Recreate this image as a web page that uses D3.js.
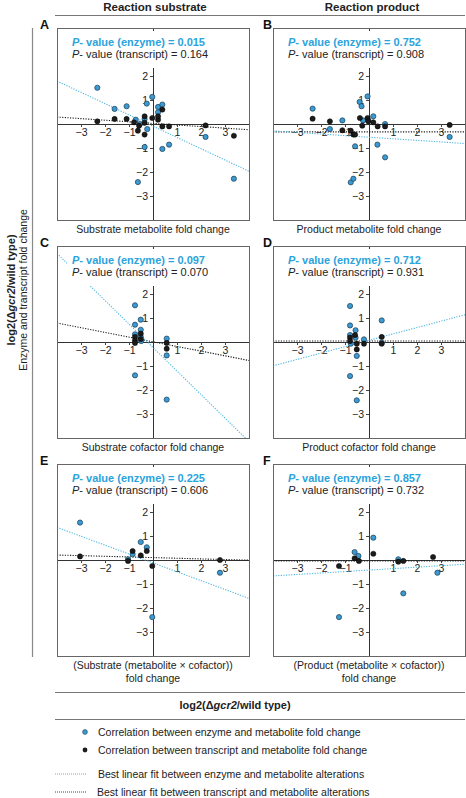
<!DOCTYPE html>
<html><head><meta charset="utf-8">
<script src="https://cdn.jsdelivr.net/npm/d3@7"></script>
<style>
body{margin:0;background:#fff}
svg{display:block;font-family:"Liberation Sans",Arial,Helvetica,sans-serif}
</style></head>
<body><svg id="chart" width="466" height="798"></svg>
<script>
// ---------- DATA ----------
const panelLetters = ["A","B","C","D","E","F"];
const columnHeaders = ["Reaction substrate","Reaction product"];
const xAxisLabels = [
  ["Substrate metabolite fold change"],
  ["Product metabolite fold change"],
  ["Substrate cofactor fold change"],
  ["Product cofactor fold change"],
  ["(Substrate (metabolite \u00d7 cofactor))","fold change"],
  ["(Product (metabolite \u00d7 cofactor))","fold change"]
];
const enzymePValues = ["0.015","0.752","0.097","0.712","0.225","0.857"];
const transcriptPValues = ["0.164","0.908","0.070","0.931","0.606","0.732"];
const xTicks = [-3,-2,-1,1,2,3];
const yTicks = [-3,-2,-1,1,2];

// enzyme vs metabolite points [x, y]
const enzymeA = [[-2.32,1.51],[-1.60,0.63],[-1.10,0.74],[-0.72,0.18],[-0.54,0.0],[-0.35,0.21],[-0.26,0.85],[-0.24,-0.21],[-0.03,1.13],[0.21,0.71],[0.21,0.49],[0.39,0.81],[-0.35,-0.96],[0.39,-1.04],[0.67,-0.86],[-0.63,-2.42],[2.19,-0.54],[3.37,-2.28]];
const enzymeB = [[-2.35,0.64],[-1.63,-0.21],[-1.11,0.15],[-0.58,-0.93],[-0.39,0.92],[-0.31,0.74],[-0.25,0.15],[-0.06,1.15],[-0.03,0.15],[0.18,0.32],[0.35,-0.86],[0.67,0.0],[0.67,-1.39],[-0.76,-2.43],[-0.65,-2.28],[3.36,-0.54]];
const enzymeC = [[-0.75,1.53],[-0.75,0.72],[-0.75,0.32],[-0.51,0.93],[-0.51,0.51],[-0.51,0.21],[-0.49,0.04],[-0.75,-1.39],[0.57,0.14],[0.57,-0.56],[0.57,-2.40]];
const enzymeD = [[-0.79,1.50],[-0.79,0.69],[-0.79,0.29],[-0.56,0.49],[-0.56,0.18],[-0.76,-0.07],[-0.21,0.11],[0.53,0.90],[0.53,-0.03],[-0.51,-0.58],[-0.79,-1.42],[-0.51,-2.43]];
const enzymeE = [[-3.04,1.56],[-1.04,0.03],[-0.85,0.24],[-0.51,0.75],[-0.26,0.53],[-0.03,-2.38],[2.79,-0.53]];
const enzymeF = [[-0.60,0.33],[-0.44,0.17],[0.18,0.93],[1.22,0.03],[1.43,-1.39],[2.85,-0.53],[-1.25,-2.38]];

// transcript vs metabolite points [x, y]
const transcriptA = [[-2.32,0.11],[-1.60,0.21],[-1.10,0.21],[-0.79,0.07],[-0.63,-0.28],[-0.58,-0.07],[-0.35,-0.44],[-0.35,0.32],[-0.35,0.05],[-0.03,0.25],[0.21,0.18],[0.21,0.32],[0.39,0.60],[0.39,-0.10],[0.67,-0.10],[2.19,-0.06],[3.37,-0.49]];
const transcriptB = [[-2.35,0.22],[-1.63,0.11],[-1.11,-0.26],[-0.76,-0.28],[-0.65,-0.44],[-0.58,-0.44],[-0.38,0.25],[-0.28,-0.07],[-0.06,0.25],[-0.03,0.11],[0.18,0.07],[0.36,-0.10],[0.67,-0.10],[3.36,-0.04]];
const transcriptC = [[-0.75,0.21],[-0.75,0.07],[-0.75,-0.04],[-0.51,0.35],[-0.51,0.12],[0.57,-0.04],[0.57,-0.28]];
const transcriptD = [[-0.79,0.18],[-0.79,0.04],[-0.58,0.29],[-0.51,-0.07],[-0.51,-0.31],[-0.21,-0.07],[0.53,0.21],[0.53,-0.07]];
const transcriptE = [[-3.04,0.15],[-1.04,-0.04],[-0.85,0.375],[-0.51,0.19],[-0.26,0.375],[-0.03,-0.25],[2.79,0.0]];
const transcriptF = [[-1.25,-0.25],[-0.60,0.07],[-0.42,-0.04],[0.18,0.26],[1.22,-0.07],[1.43,-0.04],[2.67,0.125]];

// best linear fits [slope, intercept]
const enzymeFit = [[-0.47,-0.09],[-0.066,-0.55],[-0.98,-0.23],[0.266,0.07],[-0.37,-0.12],[0.061,-0.42]];
const transcriptFit = [[-0.066,0.026],[0.0,-0.33],[-0.195,0.01],[0.0,0.04],[-0.027,0.10],[0.0,-0.04]];

const legendItems = [
  "Correlation between enzyme and metabolite fold change",
  "Correlation between transcript and metabolite fold change",
  "Best linear fit between enzyme and metabolite alterations",
  "Best linear fit between transcript and metabolite alterations"
];

const enzymePoints = [enzymeA,enzymeB,enzymeC,enzymeD,enzymeE,enzymeF];
const transcriptPoints = [transcriptA,transcriptB,transcriptC,transcriptD,transcriptE,transcriptF];

// ---------- STYLE / LAYOUT ----------
const BLUE_TEXT = "#2ba3dc";
const BLUE_FILL = "#3a9ad1";
const BLUE_STROKE = "#1c3c55";
const BLUE_LINE = "#4db6e2";
const BLACK = "#1a1a1a";
const colLeft = [57, 273];
const rowTop = [28, 246, 464];
const size = 192;

const svg = d3.select("#chart");

// column headers
columnHeaders.forEach((h,i)=>{
  svg.append("text").attr("x", [155,372][i]).attr("y", 11)
    .attr("text-anchor","middle").attr("font-size","11.5px").attr("font-weight","bold")
    .attr("fill","#222").text(h);
});
svg.append("line").attr("x1",55).attr("x2",465).attr("y1",15.5).attr("y2",15.5)
  .attr("stroke","#777").attr("stroke-width",1);

// left vertical rule & label
svg.append("line").attr("x1",32.5).attr("x2",32.5).attr("y1",28).attr("y2",657)
  .attr("stroke","#888").attr("stroke-width",1.2);
const ylab = svg.append("g").attr("transform","translate(15,290) rotate(-90)");
const yl1 = ylab.append("text").attr("text-anchor","middle").attr("font-size","11px").attr("font-weight","bold").attr("fill","#222");
yl1.append("tspan").text("log2(\u0394");
yl1.append("tspan").attr("font-style","italic").text("gcr2");
yl1.append("tspan").text("/wild type)");
svg.append("text").attr("transform","translate(26.5,290) rotate(-90)").attr("text-anchor","middle")
  .attr("font-size","10.5px").attr("fill","#222").text("Enzyme and transcript fold change");

const defs = svg.append("defs");

panelLetters.forEach((L, i) => {
  const col = i % 2, row = Math.floor(i / 2);
  const left = colLeft[col], top = rowTop[row];
  const x = d3.scaleLinear().domain([-4,4]).range([left, left+size]);
  const y = d3.scaleLinear().domain([-4,4]).range([top+size, top]);
  const g = svg.append("g");

  defs.append("clipPath").attr("id","clip"+L).append("rect")
    .attr("x",left).attr("y",top).attr("width",size).attr("height",size);

  // letter
  g.append("text").attr("x", col===0 ? 40 : 263).attr("y", top+1)
    .attr("font-size","12.5px").attr("font-weight","bold").attr("fill","#111").text(L);

  // axes
  const xAxis = d3.axisBottom(x).tickValues(xTicks).tickSize(3).tickSizeOuter(0).tickPadding(2)
    .tickFormat(d => d<0 ? "\u2212"+Math.abs(d) : d);
  const yAxis = d3.axisLeft(y).tickValues(yTicks).tickSize(3).tickSizeOuter(0).tickPadding(2)
    .tickFormat(d => d<0 ? "\u2212"+Math.abs(d) : d);
  const gx = g.append("g").attr("transform",`translate(0,${y(0)})`).call(xAxis);
  const gy = g.append("g").attr("transform",`translate(${x(0)},0)`).call(yAxis);
  [gx,gy].forEach(a=>{
    a.selectAll("path").attr("stroke","#333").attr("stroke-width",1);
    a.selectAll("line").attr("stroke","#444");
    a.selectAll("text").attr("font-size","10.5px").attr("fill","#222")
      .attr("font-family",'"Liberation Sans",Arial,sans-serif');
  });

  // fit lines
  const lg = g.append("g").attr("clip-path",`url(#clip${L})`);
  const fits = [[transcriptFit[i], BLACK, 1.1],[enzymeFit[i], BLUE_LINE, 1.1]];
  fits.forEach(([f,c,w])=>{
    lg.append("line")
      .attr("x1", x(-4)).attr("y1", y(f[0]*-4 + f[1]))
      .attr("x2", x(4)).attr("y2", y(f[0]*4 + f[1]))
      .attr("stroke", c).attr("stroke-width", w).attr("stroke-dasharray","1.2,1.4");
  });

  // points
  g.append("g").selectAll("circle").data(enzymePoints[i]).join("circle")
    .attr("cx", d=>x(d[0])).attr("cy", d=>y(d[1])).attr("r",2.6)
    .attr("fill",BLUE_FILL).attr("stroke",BLUE_STROKE).attr("stroke-width",0.7);
  g.append("g").selectAll("circle").data(transcriptPoints[i]).join("circle")
    .attr("cx", d=>x(d[0])).attr("cy", d=>y(d[1])).attr("r",2.6)
    .attr("fill","#1c1c1c").attr("stroke","#000").attr("stroke-width",0.5);

  // p-value text with white background
  const bg = g.append("rect").attr("fill","#fff");
  const t1 = g.append("text").attr("x", left+15).attr("y", top+17.5)
    .attr("font-size","11px").attr("font-weight","bold").attr("fill",BLUE_TEXT);
  t1.append("tspan").attr("font-style","italic").text("P");
  t1.append("tspan").text("- value (enzyme) = " + enzymePValues[i]);
  const t2 = g.append("text").attr("x", left+15).attr("y", top+30)
    .attr("font-size","11px").attr("fill","#222");
  t2.append("tspan").attr("font-style","italic").text("P");
  t2.append("tspan").text("- value (transcript) = " + transcriptPValues[i]);
  const w = Math.max(t1.node().getBBox().width, t2.node().getBBox().width);
  bg.attr("x", left+10).attr("y", top+3).attr("width", w+10).attr("height", 37);

  // box
  g.append("rect").attr("x",left+0.5).attr("y",top+0.5).attr("width",size).attr("height",size)
    .attr("fill","none").attr("stroke","#666").attr("stroke-width",1);

  // x label
  xAxisLabels[i].forEach((s,k)=>{
    g.append("text").attr("x", left+size/2).attr("y", top+size+13+k*12.5)
      .attr("text-anchor","middle").attr("font-size","10.5px").attr("fill","#222").text(s);
  });
});

// bottom title
svg.append("line").attr("x1",55).attr("x2",465).attr("y1",692.5).attr("y2",692.5).attr("stroke","#777");
const bt = svg.append("text").attr("x",235).attr("y",709).attr("text-anchor","middle")
  .attr("font-size","11px").attr("font-weight","bold").attr("fill","#222");
bt.append("tspan").text("log2(\u0394");
bt.append("tspan").attr("font-style","italic").text("gcr2");
bt.append("tspan").text("/wild type)");
svg.append("line").attr("x1",55).attr("x2",465).attr("y1",719.5).attr("y2",719.5).attr("stroke","#777");

// legend
const lgY = [732, 750, 774, 792];
svg.append("circle").attr("cx",85).attr("cy",lgY[0]).attr("r",2.4).attr("fill",BLUE_FILL).attr("stroke",BLUE_STROKE).attr("stroke-width",0.6);
svg.append("circle").attr("cx",85).attr("cy",lgY[1]).attr("r",2.4).attr("fill","#1c1c1c");
svg.append("line").attr("x1",55).attr("x2",87).attr("y1",lgY[2]).attr("y2",lgY[2]).attr("stroke",BLUE_LINE).attr("stroke-width",1).attr("stroke-dasharray","1,1");
svg.append("line").attr("x1",55).attr("x2",87).attr("y1",lgY[3]).attr("y2",lgY[3]).attr("stroke",BLACK).attr("stroke-width",0.8).attr("stroke-dasharray","1,1");
legendItems.forEach((s,k)=>{
  svg.append("text").attr("x", k===3 ? 97 : 98).attr("y", lgY[k]+3.8)
    .attr("font-size","10.5px").attr("fill","#222").text(s);
});
</script></body></html>
